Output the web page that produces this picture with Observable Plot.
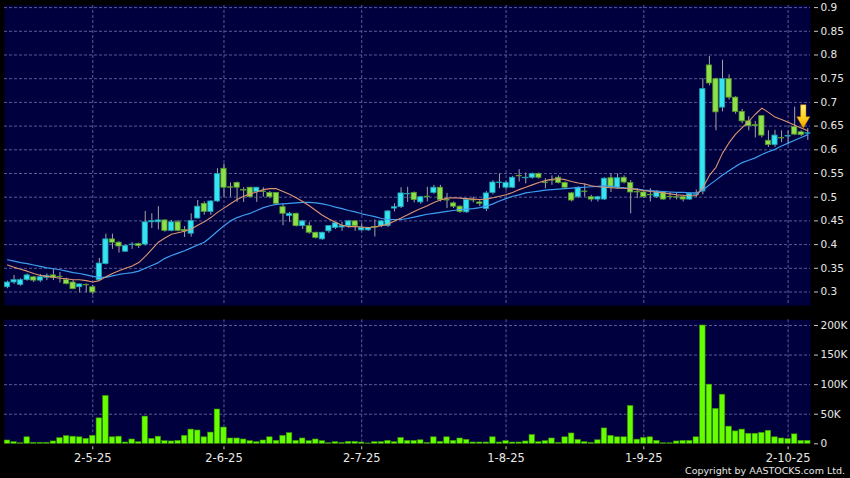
<!DOCTYPE html>
<html>
<head>
<meta charset="utf-8">
<script src="https://cdn.jsdelivr.net/npm/d3@7"></script>
<script src="https://cdn.jsdelivr.net/npm/@observablehq/plot@0.6"></script>
<style>
  html, body { margin: 0; padding: 0; background: #000; }
  #wrap { position: relative; width: 850px; height: 478px; background: #000; overflow: hidden; }
  #price { position: absolute; left: 0; top: 0; }
  #volume { position: absolute; left: 0; top: 312px; }
  #caption { position: absolute; right: 5px; top: 465px; font-family: "DejaVu Sans", sans-serif; font-size: 9.5px; line-height: 12px; color: #e6e6e6; white-space: nowrap; }
  svg { display: block; }
</style>
</head>
<body>
<div id="wrap">
  <div id="price"></div>
  <div id="volume"></div>
  <div id="caption">Copyright by AASTOCKS.com Ltd.</div>
</div>
<script>
// ---- data (one entry per trading day, Apr 10 – Oct 8, 2025) ----
const openP = [0.310,0.320,0.315,0.325,0.331,0.324,0.330,0.335,0.332,0.325,
0.320,0.310,0.315,0.310,0.325,0.359,0.411,0.404,0.385,0.399,
0.401,0.400,0.447,0.447,0.451,0.429,0.447,0.431,0.423,0.455,
0.486,0.469,0.491,0.560,0.521,0.530,0.515,0.520,0.511,0.512,
0.509,0.509,0.479,0.460,0.465,0.439,0.439,0.425,0.411,0.428,
0.435,0.436,0.439,0.449,0.430,0.430,0.437,0.439,0.439,0.476,
0.479,0.506,0.509,0.489,0.501,0.509,0.520,0.494,0.487,0.480,
0.468,0.494,0.489,0.475,0.509,0.530,0.520,0.520,0.545,0.540,
0.541,0.549,0.531,0.536,0.541,0.530,0.508,0.500,0.512,0.500,
0.495,0.495,0.540,0.520,0.541,0.530,0.511,0.510,0.505,0.500,
0.510,0.501,0.500,0.500,0.495,0.505,0.512,0.778,0.749,0.689,
0.749,0.710,0.680,0.660,0.652,0.671,0.619,0.610,0.625,0.628,
0.648,0.637,0.634];
const highP = [0.323,0.335,0.328,0.338,0.333,0.337,0.338,0.348,0.341,0.329,
0.324,0.317,0.317,0.314,0.371,0.422,0.422,0.406,0.399,0.404,
0.403,0.470,0.465,0.480,0.452,0.451,0.451,0.438,0.465,0.493,
0.490,0.493,0.560,0.570,0.530,0.532,0.520,0.521,0.520,0.520,
0.512,0.510,0.486,0.468,0.466,0.451,0.447,0.426,0.426,0.440,
0.447,0.447,0.451,0.450,0.444,0.436,0.452,0.451,0.472,0.486,
0.520,0.521,0.511,0.502,0.521,0.525,0.525,0.508,0.490,0.482,
0.497,0.500,0.493,0.512,0.535,0.549,0.533,0.544,0.558,0.551,
0.551,0.551,0.539,0.545,0.545,0.532,0.510,0.522,0.528,0.504,
0.502,0.541,0.549,0.549,0.545,0.535,0.518,0.514,0.518,0.514,
0.512,0.510,0.508,0.503,0.510,0.515,0.750,0.797,0.751,0.789,
0.758,0.712,0.685,0.670,0.660,0.672,0.640,0.641,0.640,0.640,
0.690,0.640,0.645];
const lowP = [0.307,0.316,0.312,0.323,0.320,0.320,0.324,0.324,0.319,0.315,
0.305,0.298,0.298,0.294,0.324,0.357,0.390,0.382,0.384,0.390,
0.392,0.397,0.434,0.431,0.426,0.427,0.427,0.415,0.416,0.454,
0.462,0.462,0.489,0.500,0.500,0.489,0.489,0.499,0.489,0.500,
0.497,0.484,0.440,0.447,0.437,0.432,0.422,0.412,0.409,0.424,
0.432,0.428,0.435,0.428,0.428,0.428,0.416,0.436,0.436,0.469,
0.476,0.489,0.488,0.485,0.490,0.506,0.490,0.476,0.476,0.466,
0.466,0.488,0.480,0.470,0.505,0.518,0.515,0.518,0.532,0.528,
0.538,0.538,0.518,0.525,0.528,0.518,0.490,0.497,0.500,0.490,
0.490,0.493,0.510,0.517,0.528,0.465,0.497,0.497,0.490,0.497,
0.494,0.494,0.494,0.490,0.493,0.500,0.505,0.735,0.640,0.680,
0.705,0.675,0.655,0.640,0.625,0.625,0.605,0.605,0.615,0.610,
0.630,0.628,0.620];
const closeP = [0.320,0.325,0.325,0.335,0.324,0.331,0.334,0.330,0.331,0.317,
0.306,0.316,0.314,0.299,0.360,0.411,0.404,0.396,0.397,0.400,
0.397,0.447,0.450,0.451,0.429,0.447,0.429,0.428,0.450,0.480,
0.469,0.491,0.549,0.520,0.520,0.520,0.514,0.500,0.520,0.511,
0.500,0.486,0.465,0.465,0.439,0.449,0.425,0.414,0.425,0.439,
0.445,0.439,0.449,0.439,0.435,0.435,0.436,0.449,0.470,0.479,
0.508,0.507,0.494,0.500,0.500,0.520,0.494,0.493,0.480,0.469,
0.494,0.493,0.486,0.508,0.531,0.531,0.530,0.541,0.544,0.541,
0.549,0.541,0.530,0.535,0.530,0.520,0.493,0.520,0.511,0.495,
0.500,0.539,0.520,0.540,0.531,0.510,0.510,0.500,0.504,0.510,
0.495,0.500,0.499,0.495,0.507,0.506,0.728,0.740,0.679,0.749,
0.710,0.680,0.660,0.650,0.650,0.630,0.610,0.630,0.624,0.629,
0.632,0.631,0.635];
const volume = [5600,2800,1000,11000,1700,1700,1700,4000,9500,13000,
12000,11000,8400,13500,43000,81000,11000,12000,2200,7300,
2800,46000,8400,12000,4500,4000,5000,13500,24000,22500,
11000,19000,58000,27500,9000,9000,7300,4500,2800,5600,
11000,5000,13500,18000,5000,9000,4500,7300,4500,1100,
2800,1700,3400,3400,2200,600,2800,2800,5000,2800,
10000,5000,5000,6000,1700,11000,3400,11000,5000,9000,
6700,2200,2200,2200,11000,2200,4500,2200,2200,4000,
15000,2800,4500,9000,1700,11000,17500,6700,2800,1700,
6000,26000,13500,11000,11000,64000,7000,10000,11000,5000,
1000,1000,4000,5000,5000,11000,200000,100000,59000,83000,
29000,21000,24000,17000,17000,18500,22000,11000,9000,8000,
16000,5000,5000];
const ma10 = [0.357,0.352,0.348,0.344,0.339,0.335,0.333,0.331,0.329,0.328,
0.326,0.326,0.324,0.321,0.324,0.332,0.339,0.345,0.350,0.355,
0.362,0.375,0.390,0.405,0.414,0.422,0.425,0.428,0.433,0.441,
0.448,0.457,0.468,0.477,0.486,0.495,0.502,0.507,0.511,0.516,
0.518,0.518,0.512,0.506,0.499,0.491,0.482,0.472,0.462,0.454,
0.447,0.441,0.438,0.438,0.437,0.436,0.437,0.440,0.443,0.450,
0.456,0.463,0.470,0.476,0.482,0.489,0.494,0.498,0.499,0.498,
0.497,0.496,0.495,0.496,0.499,0.502,0.505,0.510,0.516,0.521,
0.526,0.531,0.535,0.538,0.539,0.537,0.533,0.530,0.528,0.524,
0.522,0.521,0.520,0.519,0.519,0.518,0.516,0.514,0.512,0.511,
0.509,0.507,0.505,0.504,0.503,0.503,0.520,0.546,0.563,0.593,
0.615,0.633,0.647,0.660,0.675,0.688,0.679,0.669,0.664,0.658,
0.652,0.646,0.640];
const ma20 = [0.368,0.365,0.362,0.360,0.357,0.354,0.351,0.349,0.347,0.344,
0.341,0.339,0.336,0.333,0.331,0.331,0.334,0.337,0.339,0.341,
0.344,0.350,0.356,0.362,0.371,0.377,0.382,0.387,0.393,0.399,
0.405,0.416,0.428,0.440,0.450,0.457,0.462,0.466,0.472,0.478,
0.482,0.485,0.486,0.487,0.488,0.489,0.489,0.488,0.486,0.483,
0.479,0.476,0.472,0.469,0.465,0.462,0.459,0.455,0.453,0.453,
0.453,0.455,0.458,0.461,0.464,0.466,0.468,0.470,0.472,0.474,
0.475,0.476,0.478,0.481,0.486,0.492,0.497,0.502,0.505,0.509,
0.511,0.513,0.515,0.516,0.517,0.518,0.519,0.520,0.521,0.522,
0.523,0.524,0.523,0.521,0.520,0.518,0.517,0.515,0.514,0.513,
0.512,0.511,0.510,0.510,0.509,0.509,0.515,0.526,0.536,0.547,
0.556,0.565,0.573,0.578,0.583,0.590,0.596,0.601,0.608,0.614,
0.620,0.626,0.632];
const tickIndex = [13, 33, 54, 76, 97, 119];
const tickLabels = ["2-5-25", "2-6-25", "2-7-25", "1-8-25", "1-9-25", "2-10-25"];
const priceTicks = [0.3, 0.35, 0.4, 0.45, 0.5, 0.55, 0.6, 0.65, 0.7, 0.75, 0.8, 0.85, 0.9];
const volumeTicks = [0, 50000, 100000, 150000, 200000];

// ---- table built from the arrays ----
const days = closeP.map((c, i) => ({
  i, open: openP[i], high: highP[i], low: lowP[i], close: c,
  volume: volume[i], ma10: ma10[i], ma20: ma20[i]
}));

// ---- styling ----
const NAVY = "#00003f";
const GRID = "#5a5a98";
const TXT = "#e8e8e8";
const UP_FILL = "#36e3f0", UP_EDGE = "#1f9fb0";
const DN_FILL = "#8ce04a", DN_EDGE = "#5a9a2c";
const xDomain = [-0.457, 122.87];
const half = 0.40;
const bodyFill = d => d.close > d.open ? UP_FILL : d.close < d.open ? DN_FILL : "#b0b0b0";
const bodyEdge = d => d.close > d.open ? UP_EDGE : d.close < d.open ? DN_EDGE : "#b0b0b0";

function arrowMark(index, scales) {
  const n = closeP.length - 1;
  const cx = scales.x(n) - 4;
  const tip = scales.y(closeP[n]) - 4.5;
  const g = d3.create("svg:g");
  const grad = g.append("defs").append("linearGradient")
    .attr("id", "arrowGrad").attr("x1", 0).attr("y1", 0).attr("x2", 0).attr("y2", 1);
  grad.append("stop").attr("offset", "0%").attr("stop-color", "#fff47e");
  grad.append("stop").attr("offset", "55%").attr("stop-color", "#ffd21c");
  grad.append("stop").attr("offset", "100%").attr("stop-color", "#f09a00");
  g.append("path")
    .attr("d", `M${cx - 2.7},${tip - 23.5}h5.4v12h3.9l-6.6,11.5l-6.6,-11.5h3.9z`)
    .attr("fill", "url(#arrowGrad)")
    .attr("stroke", "#b87400").attr("stroke-width", 0.5);
  return g.node();
}

const price = Plot.plot({
  width: 850, height: 312,
  marginLeft: 4, marginRight: 37, marginTop: 5, marginBottom: 7,
  x: {type: "linear", domain: xDomain, axis: null},
  y: {type: "linear", domain: [0.27152, 0.90443], label: null},
  color: {type: "identity"},
  style: {background: "#000", color: TXT, fontFamily: "DejaVu Sans, sans-serif", fontSize: "10.5px"},
  marks: [
    Plot.frame({fill: NAVY, stroke: "none", insetRight: 3}),
    Plot.gridY(priceTicks, {stroke: GRID, strokeOpacity: 1, strokeDasharray: "3,2", insetRight: 3}),
    Plot.gridX(tickIndex, {stroke: GRID, strokeOpacity: 1, strokeDasharray: "3,2"}),
    Plot.axisY(priceTicks, {anchor: "right", label: null, tickSize: 4, tickPadding: 3,
      stroke: "#c8c8c8", fill: TXT, fontSize: 10.5, tickFormat: d => String(+d.toFixed(2))}),
    Plot.ruleX(days, {x: "i", y1: "low", y2: "high", stroke: "#a4a4a4", strokeWidth: 1}),
    Plot.rect(days, {x1: d => d.i - half, x2: d => d.i + half, y1: "open", y2: "close",
      fill: bodyFill, stroke: bodyEdge, strokeWidth: 0.8}),
    Plot.line(days, {x: "i", y: "ma20", stroke: "#3d9ef0", strokeWidth: 1.2}),
    Plot.line(days, {x: "i", y: "ma10", stroke: "#dc9470", strokeWidth: 1.1}),
    arrowMark
  ]
});
document.getElementById("price").appendChild(price);

const vol = Plot.plot({
  width: 850, height: 166,
  marginLeft: 4, marginRight: 37, marginTop: 7.3, marginBottom: 31.7,
  x: {type: "linear", domain: xDomain, label: null},
  y: {type: "linear", domain: [-5072, 209636], label: null},
  style: {background: "#000", color: TXT, fontFamily: "DejaVu Sans, sans-serif", fontSize: "10.5px"},
  marks: [
    Plot.frame({fill: NAVY, stroke: "none", insetRight: 3, insetBottom: 3}),
    Plot.gridY(volumeTicks.slice(1), {stroke: GRID, strokeOpacity: 1, strokeDasharray: "3,2", insetRight: 3}),
    Plot.gridX(tickIndex, {stroke: GRID, strokeOpacity: 1, strokeDasharray: "3,2", insetBottom: 3}),
    Plot.rect(days, {x1: d => d.i - 0.42, x2: d => d.i + 0.42, y1: 0, y2: "volume",
      fill: "#66ff00", stroke: "#3c8f00", strokeWidth: 0.6}),
    Plot.axisY(volumeTicks, {anchor: "right", label: null, tickSize: 4, tickPadding: 3,
      stroke: "#c8c8c8", fill: TXT, fontSize: 10.5,
      tickFormat: d => d === 0 ? "0" : (d / 1000) + "K"}),
    Plot.axisX(tickIndex, {anchor: "bottom", label: null, tickSize: 3, tickPadding: 4,
      stroke: "#c8c8c8", fill: TXT, fontSize: 11.5,
      tickFormat: d => tickLabels[tickIndex.indexOf(d)]})
  ]
});
document.getElementById("volume").appendChild(vol);
</script>
</body>
</html>
